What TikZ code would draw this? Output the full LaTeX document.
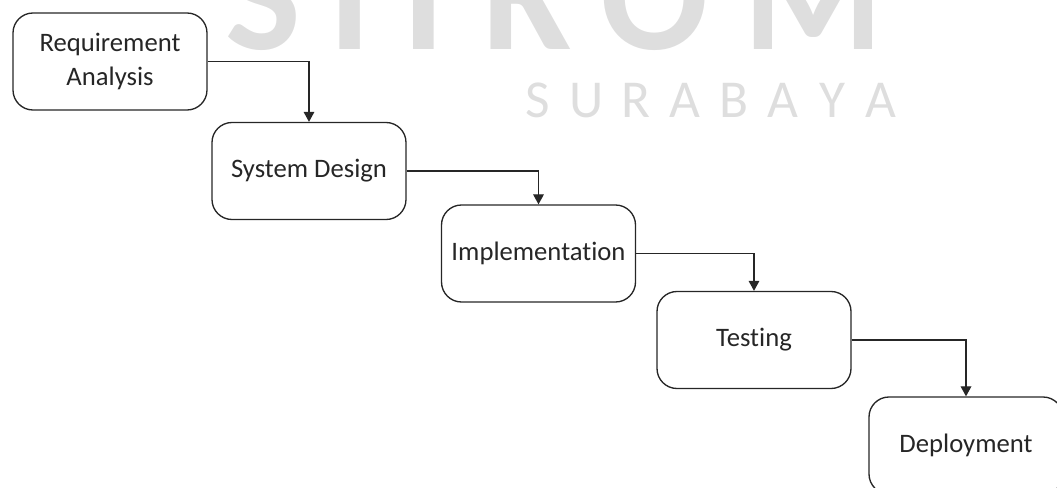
\documentclass[tikz,border=0pt]{standalone}
\usepackage{fontspec}
\setmainfont{Carlito}[Ligatures=NoCommon]
\usetikzlibrary{arrows.meta,positioning}
\definecolor{line}{HTML}{262626}
\definecolor{text}{HTML}{262626}
\definecolor{mark}{HTML}{DEDEDE}

\begin{document}
\begin{tikzpicture}[x=0.75pt, y=-0.75pt,
      phase/.style={rounded corners=15pt, draw=line, line width=1pt, align=center,
        minimum width=145.5pt, minimum height=72.75pt, inner sep=2pt,
        font=\fontsize{20}{25}\selectfont, text=text},
      flow/.style={-{Triangle[length=7.5pt,width=8pt]}, line width=0.9pt, draw=line},
      bigmark/.style={font=\fontsize{120}{120}\selectfont\bfseries, text=mark, anchor=base,
        inner sep=0pt, text depth=0pt},
      submark/.style={font=\fontsize{40}{40}\selectfont, text=mark, anchor=base,
        inner sep=0pt, text depth=0pt}
    ]
      \useasboundingbox (0,0) rectangle (1057,488);
      \clip (0,0) rectangle (1057,488);

      % watermark behind the diagram
      \foreach \ch/\xx [count=\i] in {S/263, T/350, I/424, K/527, O/655, M/813}
        \node[bigmark] (big\i) at (\xx,50) {\ch};
      \foreach \ch [count=\i] in {S,U,R,A,B,A,Y,A}
        \node[submark] (sub\i) at (489+49*\i,118) {\ch};

      % phases
      \node[phase] (req) at (110,61.5) {Requirement\\Analysis};
      \node[phase] (sys) at (309,171) {System Design};
      \node[phase] (imp) at (538.5,253.5) {Implementation};
      \node[phase] (tst) at (754,340) {Testing};
      \node[phase] (dep) at (966,445.5) {Deployment};

      \draw[flow] (req.east) -| (sys.north);
      \draw[flow] (sys.east) -| (imp.north);
      \draw[flow] (imp.east) -| (tst.north);
      \draw[flow] (tst.east) -| (dep.north);
    \end{tikzpicture}
\end{document}
